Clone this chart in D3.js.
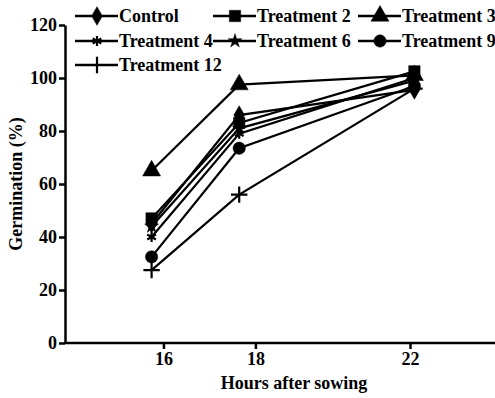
<!DOCTYPE html>
<html>
<head>
<meta charset="utf-8">
<script src="https://cdn.jsdelivr.net/npm/d3@7"></script>
<style>
  body { margin: 0; background: #fff; }
  svg text { font-family: "Liberation Serif", "Times New Roman", serif; font-weight: bold; fill: #000; }
</style>
</head>
<body>
<svg id="chart" width="495" height="398"></svg>
<script>
const hours = [16, 18, 22];
// where the printed ticks sit on the hour scale (the original labels are a bit off the points)
const tickAt = [16.27, 18.37, 21.9];
const tickLabels = ['16', '18', '22'];
const yTicks = [0, 20, 40, 60, 80, 100, 120];

const names = ['Control', 'Treatment 2', 'Treatment 3', 'Treatment 4', 'Treatment 6', 'Treatment 9', 'Treatment 12'];
const control = [45, 86, 95.5];
const treat2 = [47, 83, 102.5];
const treat3 = [65, 97.5, 101];
const treat4 = [40, 79, 100];
const treat6 = [44, 81, 99];
const treat9 = [32.5, 73.5, 97];
const treat12 = [27.5, 56, 96];

const series = [control, treat2, treat3, treat4, treat6, treat9, treat12].map((vals, i) => ({
  name: names[i],
  values: vals.map((v, j) => ({ h: hours[j], v: v }))
}));

const symbols = [
  { type: d3.symbolDiamond, size: 100, fill: true },
  { type: d3.symbolSquare, size: 130, fill: true },
  { type: d3.symbolTriangle, size: 140, fill: true },
  { type: d3.symbolAsterisk, size: 70, fill: false },
  { type: d3.symbolStar, size: 60, fill: true },
  { type: d3.symbolCircle, size: 120, fill: true },
  { type: d3.symbolPlus, size: 90, fill: false }
];

const svg = d3.select('#chart');

const x = d3.scaleLinear().domain([14, 24]).range([64, 502]);
const y = d3.scaleLinear().domain([0, 120]).range([343, 25]);

// axes
const yAxis = svg.append('g')
  .attr('transform', 'translate(65,0)')
  .call(d3.axisLeft(y).tickValues(yTicks).tickSize(6).tickSizeOuter(0).tickPadding(2));

const xAxis = svg.append('g')
  .attr('transform', 'translate(0,343)')
  .call(d3.axisBottom(x).tickValues(tickAt).tickFormat((d, i) => tickLabels[i]).tickSize(6).tickSizeOuter(0).tickPadding(3));
xAxis.select('.domain').attr('d', 'M65,0H502');

[yAxis, xAxis].forEach(g => {
  g.selectAll('path, line').attr('stroke', '#000').attr('stroke-width', 2.5);
  g.selectAll('text').style('font-size', '18px');
});

svg.append('text')
  .attr('transform', 'translate(22,184) rotate(-90)')
  .attr('text-anchor', 'middle')
  .style('font-size', '18px')
  .text('Germination (%)');

svg.append('text')
  .attr('x', 294)
  .attr('y', 389)
  .attr('text-anchor', 'middle')
  .style('font-size', '18px')
  .text('Hours after sowing');

// lines
const line = d3.line().x(d => x(d.h)).y(d => y(d.v));

svg.append('g').selectAll('path')
  .data(series)
  .join('path')
  .attr('d', d => line(d.values))
  .attr('fill', 'none')
  .attr('stroke', '#000')
  .attr('stroke-width', 2.2);

function drawSymbol(sel, i) {
  const s = symbols[i];
  sel.attr('d', d3.symbol().type(s.type).size(s.size)())
    .attr('fill', s.fill ? '#000' : 'none')
    .attr('stroke', '#000')
    .attr('stroke-width', s.fill ? 0.5 : 2.2);
}

series.forEach((s, i) => {
  svg.append('g').selectAll('path')
    .data(s.values)
    .join('path')
    .attr('transform', d => `translate(${x(d.h)},${y(d.v)})`)
    .call(drawSymbol, i);
});

// legend
const legCols = [75, 213, 358];
const legRows = [16, 41, 65];
const legend = svg.append('g');
series.forEach((s, i) => {
  const cx = legCols[i % 3];
  const cy = legRows[Math.floor(i / 3)];
  const g = legend.append('g').attr('transform', `translate(${cx},${cy})`);
  g.append('line')
    .attr('x1', 0).attr('x2', 43)
    .attr('stroke', '#000').attr('stroke-width', 2.5);
  g.append('path')
    .attr('transform', 'translate(22,0)')
    .call(drawSymbol, i);
  g.append('text')
    .attr('x', 44)
    .attr('dy', '0.35em')
    .style('font-size', '18px')
    .text(s.name);
});
</script>
</body>
</html>
